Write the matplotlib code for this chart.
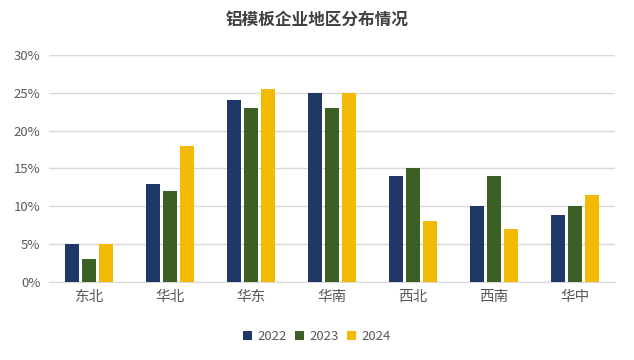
import matplotlib
matplotlib.use("Agg")
import matplotlib.pyplot as plt
import numpy as np
from matplotlib.ticker import FuncFormatter

plt.rcParams['font.family'] = ['Noto Sans CJK SC', 'DejaVu Sans']

categories = ['东北', '华北', '华东', '华南', '西北', '西南', '华中']
series_names = ['2022', '2023', '2024']
v2022 = [5, 13, 24, 25, 14, 10, 8.9]
v2023 = [3, 12, 23, 23, 15, 14, 10]
v2024 = [5, 18, 25.5, 25, 8, 7, 11.5]
colors = ['#1F3868', '#3C5F23', '#F2BA02']

fig = plt.figure(figsize=(6.34, 3.6), dpi=100)
ax = fig.add_axes([0.077, 0.2167, 0.893, 0.6305])

x = np.arange(len(categories))
w = 0.173
step = 0.21
for i, (vals, name) in enumerate(zip([v2022, v2023, v2024], series_names)):
    ax.bar(x + (i - 1) * step, vals, width=w, color=colors[i], label=name, zorder=3)

ax.set_xlim(-0.5, len(categories) - 0.5)
ax.set_ylim(0, 30)
ax.set_yticks(np.arange(0, 31, 5))
ax.yaxis.set_major_formatter(FuncFormatter(lambda v, p: f'{int(v)}%'))
ax.grid(axis='y', color='#D9D9D9', linewidth=1, zorder=0)
ax.set_xticks(x)
ax.set_xticklabels(categories, fontsize=10.5, color='#595959')
for lbl in ax.get_yticklabels():
    lbl.set_color('#595959')
    lbl.set_fontsize(9.5)
for s in ['top', 'right', 'left']:
    ax.spines[s].set_visible(False)
ax.spines['bottom'].set_color('#D9D9D9')
ax.tick_params(axis='both', length=0)
ax.tick_params(axis='x', pad=6)
ax.tick_params(axis='y', pad=6)

fig.text(0.5, 0.945, '铝模板企业地区分布情况', ha='center', va='center',
         fontsize=12, fontweight='bold', color='#404040')

fig.legend(loc='center', bbox_to_anchor=(0.5, 0.066), ncol=3, frameon=False,
           fontsize=9.5, handlelength=0.7, handleheight=0.7, handletextpad=0.4,
           columnspacing=0.6, labelcolor='#595959')

fig.savefig('out.png', dpi=100)
